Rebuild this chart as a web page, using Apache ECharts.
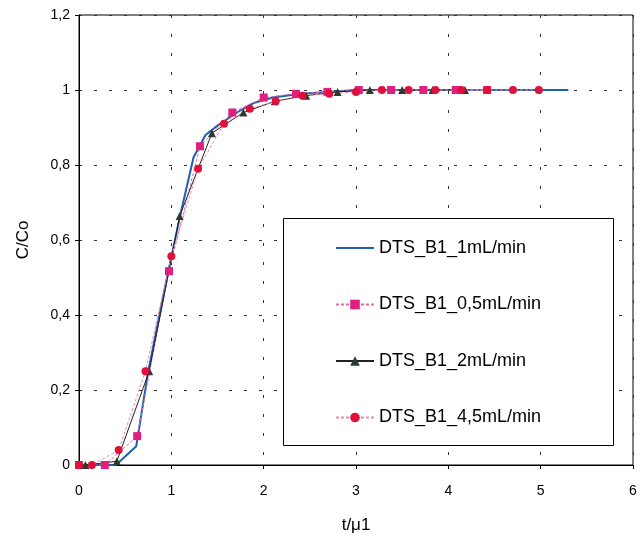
<!DOCTYPE html>
<html>
<head>
<meta charset="utf-8">
<script src="https://cdn.jsdelivr.net/npm/echarts@6/dist/echarts.min.js"></script>
<style>html,body{margin:0;padding:0;background:#fff}#c{width:640px;height:540px}</style>
</head>
<body>
<div id="c"></div>
<script>
// Series names
const seriesNames = ['DTS_B1_1mL/min', 'DTS_B1_0,5mL/min', 'DTS_B1_2mL/min', 'DTS_B1_4,5mL/min'];

// DTS_B1_1mL/min (line only)
const s1x = [0, 0.2, 0.4, 0.62, 0.75, 0.97, 1.1, 1.24, 1.37, 1.5, 1.71, 1.89, 2.1, 2.4, 2.7, 3.0, 3.5, 4.0, 4.5, 5.0, 5.3];
const s1y = [0, 0, 0, 0.05, 0.25, 0.52, 0.67, 0.82, 0.88, 0.905, 0.94, 0.965, 0.98, 0.99, 0.995, 1, 1, 1, 1, 1, 1];

// DTS_B1_0,5mL/min (squares)
const s2x = [0, 0.28, 0.63, 0.975, 1.31, 1.66, 2.0, 2.35, 2.69, 3.03, 3.38, 3.73, 4.08, 4.42];
const s2y = [0, 0, 0.077, 0.517, 0.85, 0.94, 0.98, 0.99, 0.995, 1, 1, 1, 1, 1];

// DTS_B1_2mL/min (triangles)
const s3x = [0.07, 0.41, 0.76, 1.09, 1.44, 1.78, 2.12, 2.46, 2.8, 3.15, 3.5, 3.83, 4.18];
const s3y = [0, 0.01, 0.25, 0.664, 0.885, 0.94, 0.97, 0.985, 0.995, 1, 1, 1, 1];

// DTS_B1_4,5mL/min (circles)
const s4x = [0, 0.14, 0.43, 0.72, 1.0, 1.29, 1.57, 1.85, 2.13, 2.42, 2.71, 3.0, 3.28, 3.57, 3.86, 4.14, 4.42, 4.7, 4.98];
const s4y = [0, 0, 0.04, 0.25, 0.557, 0.79, 0.91, 0.95, 0.97, 0.985, 0.99, 0.995, 1, 1, 1, 1, 1, 1, 1];

// Axis labels
const xTicks = ['0', '1', '2', '3', '4', '5', '6'];
const yTicks = ['0', '0,2', '0,4', '0,6', '0,8', '1', '1,2'];

const zip = (xs, ys) => xs.map((x, i) => [x, ys[i]]);
const FONT = 'Liberation Sans, Arial, sans-serif';

const chart = echarts.init(document.getElementById('c'), null, {renderer: 'canvas'});
chart.setOption({
  animation: false,
  backgroundColor: '#fff',
  grid: {left: 79, right: 7, top: 15, bottom: 75, show: true, borderColor: '#000', borderWidth: 1, backgroundColor: 'transparent'},
  graphic: [{
    type: 'rect', left: 283, top: 218, z: 5,
    shape: {width: 330, height: 227},
    style: {fill: '#fff', stroke: '#000', lineWidth: 1}
  }],
  legend: {
    orient: 'vertical', left: 335, top: 238, padding: 0, z: 10,
    itemWidth: 38, itemHeight: 12, itemGap: 36.5,
    textStyle: {fontFamily: FONT, fontSize: 18, color: '#000', lineHeight: 20},
    data: [
      {name: seriesNames[0], itemStyle: {opacity: 0}},
      {name: seriesNames[1]},
      {name: seriesNames[2]},
      {name: seriesNames[3]}
    ]
  },
  xAxis: {
    type: 'value', min: 0, max: 6, interval: 1,
    name: 't/\u03bc1', nameLocation: 'middle', nameGap: 52,
    nameTextStyle: {fontFamily: FONT, fontSize: 17, color: '#000'},
    axisLine: {show: true, lineStyle: {color: '#000', width: 1}},
    axisTick: {show: true, inside: false, length: 4, lineStyle: {color: '#000'}},
    axisLabel: {fontFamily: FONT, fontSize: 14, color: '#000', margin: 19,
      formatter: v => xTicks[Math.round(v)]},
    splitLine: {show: true, lineStyle: {color: '#333', width: 1, type: [3, 16]}}
  },
  yAxis: {
    type: 'value', min: 0, max: 1.2, interval: 0.2,
    name: 'C/Co', nameLocation: 'middle', nameGap: 47,
    nameTextStyle: {fontFamily: FONT, fontSize: 17, color: '#000'},
    axisLine: {show: true, lineStyle: {color: '#000', width: 1}},
    axisTick: {show: true, inside: false, length: 4, lineStyle: {color: '#000'}},
    axisLabel: {fontFamily: FONT, fontSize: 14, color: '#000', margin: 9,
      formatter: v => yTicks[Math.round(v / 0.2)]},
    splitLine: {show: true, lineStyle: {color: '#333', width: 1, type: [3, 12]}}
  },
  series: [
    {
      name: seriesNames[0], type: 'line', data: zip(s1x, s1y),
      showSymbol: false, symbol: 'none', color: '#1f5fae',
      lineStyle: {color: '#1f5fae', width: 2}, z: 3
    },
    {
      name: seriesNames[1], type: 'line', data: zip(s2x, s2y),
      symbol: 'rect', symbolSize: 8, color: '#e0207f',
      itemStyle: {color: '#e0207f'},
      lineStyle: {color: '#e46aa6', width: 1, type: [3, 2]}, z: 4
    },
    {
      name: seriesNames[2], type: 'line', data: zip(s3x, s3y),
      symbol: 'triangle', symbolSize: 8, color: '#1a1a1a',
      itemStyle: {color: '#2a3a30'},
      lineStyle: {color: '#222', width: 1}, z: 4
    },
    {
      name: seriesNames[3], type: 'line', data: zip(s4x, s4y),
      symbol: 'circle', symbolSize: 8, color: '#e0103a',
      itemStyle: {color: '#e0103a'},
      lineStyle: {color: '#e88aa8', width: 1, type: [3, 2]}, z: 4
    }
  ]
});
</script>
</body>
</html>
